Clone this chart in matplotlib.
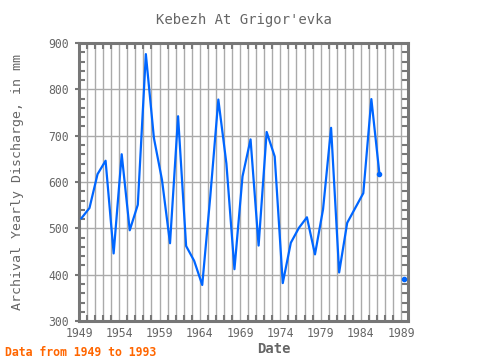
import numpy as np
import matplotlib
matplotlib.use("Agg")
import matplotlib.pyplot as plt
from matplotlib.ticker import MultipleLocator

# yearly discharge values (mm); gaps are NaN
years = list(range(1949, 1990))
discharge = [522, 544, 617, 646, 446, 660, 496, 551, 876, 695,
             605, 468, 742, 462, 430, 378, 569, 778, 640, 412,
             612, 692, 463, 708, 655, 382, 469, 501, 524, 444,
             541, 717, 405, 512, 544, 576, 779, 618, np.nan, np.nan,
             391]
x_ticks = [1949, 1954, 1959, 1964, 1969, 1974, 1979, 1984, 1989]
y_ticks = [300, 400, 500, 600, 700, 800, 900]

plt.rcParams['font.family'] = ['DejaVu Sans Mono']
grey = '#666666'

fig = plt.figure(figsize=(4.8, 3.6), dpi=100)
ax = fig.add_axes([0.1646, 0.108, 0.6854, 0.7726])

# points sit about a third of a year after the tick
xs = np.array(years) + 0.3
vals = np.array(discharge, dtype=float)
ax.plot(xs, vals, color='#0066ff', lw=1.6, zorder=3)

# mark the points that touch a gap (end of a run / isolated year)
ok = ~np.isnan(vals)
prev_ok = np.r_[False, ok[:-1]]
next_ok = np.r_[ok[1:], False]
edge = ok & ~(prev_ok & next_ok) & (np.arange(len(vals)) > 0)
ax.plot(xs[edge], vals[edge], ls='none', marker='o', ms=3,
        color='#0066ff', zorder=3)

ax.set_xlim(1949, 1989.85)
ax.set_ylim(300, 900)
ax.set_xticks(x_ticks)
ax.set_yticks(y_ticks)
ax.xaxis.set_minor_locator(MultipleLocator(1))
ax.yaxis.set_minor_locator(MultipleLocator(20))

ax.grid(True, which='minor', axis='x', color='#aaaaaa', lw=1)
ax.grid(True, which='major', axis='x', color='#aaaaaa', lw=1)
ax.grid(True, which='major', axis='y', color='#aaaaaa', lw=1)
ax.set_axisbelow(True)

for s in ax.spines.values():
    s.set_color('#777777')
    s.set_linewidth(2.2)

ax.tick_params(which='both', direction='in', top=True, right=True,
               color='#777777', width=1.5, labelcolor=grey, labelsize=8.3)
ax.tick_params(which='major', length=0, pad=4)
ax.tick_params(which='minor', length=4)
ax.tick_params(axis='y', which='major', direction='out', length=3,
               right=False)

ax.set_title("Kebezh At Grigor'evka", color=grey, fontsize=10, pad=14)
ax.set_xlabel('Date', color=grey, fontsize=10, fontweight='bold', labelpad=2)
ax.xaxis.set_label_coords(0.593, -0.075)
ax.set_ylabel('Archival Yearly Discharge, in mm', color=grey, fontsize=9.5,
              labelpad=18)

fig.text(0.01, 0.012, 'Data from 1949 to 1993', color='#ff6600',
         fontsize=8.3, fontweight='bold')

fig.savefig('out.png', dpi=100)
